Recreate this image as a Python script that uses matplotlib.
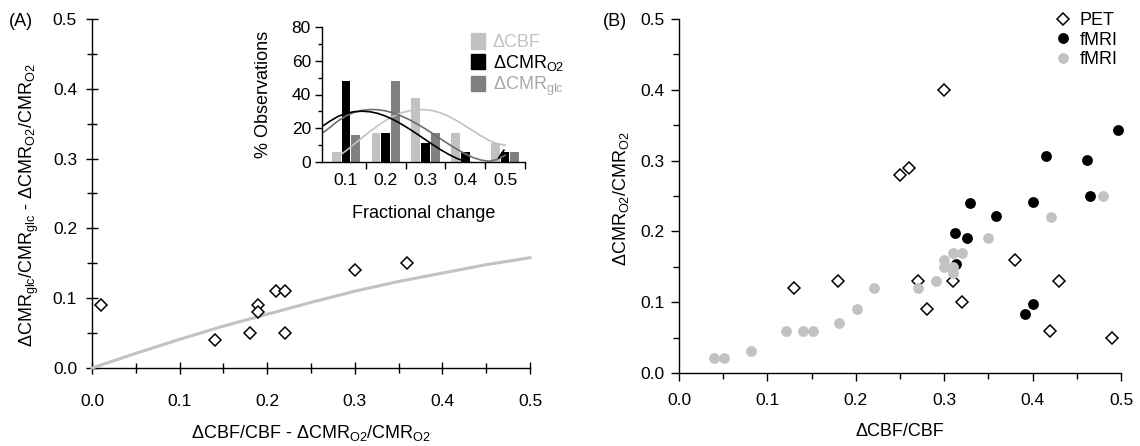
import numpy as np
import matplotlib
matplotlib.use("Agg")
import matplotlib.pyplot as plt
from matplotlib.patches import Patch
from matplotlib.lines import Line2D
from matplotlib.ticker import MultipleLocator, FixedLocator, FormatStrFormatter

plt.rcParams['font.family'] = ['Liberation Sans', 'DejaVu Sans']
plt.rcParams['mathtext.fontset'] = 'custom'
plt.rcParams['mathtext.rm'] = 'Liberation Sans'
plt.rcParams['mathtext.it'] = 'Liberation Sans'
plt.rcParams['axes.linewidth'] = 1.0

# ---- Panel A: glucose vs oxygen uncoupling ----
a_x = [0.01, 0.14, 0.18, 0.19, 0.19, 0.21, 0.22, 0.22, 0.30, 0.36]
a_y = [0.09, 0.04, 0.05, 0.09, 0.08, 0.11, 0.11, 0.05, 0.14, 0.15]
model_x = [0.0, 0.05, 0.10, 0.15, 0.20, 0.25, 0.30, 0.35, 0.40, 0.45, 0.50]
model_y = [0.0, 0.021, 0.041, 0.060, 0.077, 0.094, 0.110, 0.124, 0.136, 0.148, 0.158]

# ---- Inset: histogram of fractional changes (%) ----
bins = [0.1, 0.2, 0.3, 0.4, 0.5]
pct_cbf = [6, 17, 38, 17, 11]
pct_cmro2 = [48, 17, 11, 6, 6]
pct_cmrglc = [16, 48, 17, 0, 6]

fit_cbf_x = [0.085, 0.10, 0.12, 0.14, 0.16, 0.18, 0.20, 0.22, 0.24, 0.26, 0.28,
             0.30, 0.32, 0.34, 0.36, 0.38, 0.40, 0.42, 0.44, 0.46, 0.48, 0.50]
fit_cbf_y = [4.0, 6.6, 10.4, 14.3, 18.0, 21.5, 24.6, 27.2, 29.2, 30.4, 31.0,
             31.0, 30.3, 28.9, 26.9, 24.3, 21.4, 18.4, 15.4, 12.8, 10.9, 10.0]
fit_cmro2_x = [0.04, 0.06, 0.08, 0.10, 0.12, 0.14, 0.16, 0.18, 0.20, 0.22, 0.24,
               0.26, 0.28, 0.30, 0.32, 0.34, 0.36, 0.38, 0.40, 0.41, np.nan,
               0.484, 0.497]
fit_cmro2_y = [21.0, 24.2, 27.0, 28.8, 29.8, 30.1, 29.8, 28.8, 27.2, 25.0, 22.4,
               19.5, 16.4, 13.2, 10.0, 7.0, 4.3, 2.0, 0.4, 0.0, np.nan,
               2.5, 7.0]
fit_cmrglc_x = [0.04, 0.06, 0.08, 0.10, 0.12, 0.14, 0.16, 0.18, 0.20, 0.22, 0.24,
                0.26, 0.28, 0.30, 0.32, 0.34, 0.36, 0.38, 0.40, 0.42, 0.44, 0.46,
                0.48, 0.50]
fit_cmrglc_y = [17.0, 20.5, 24.3, 27.3, 29.4, 30.6, 31.1, 31.0, 30.3, 29.0, 27.2,
                25.0, 22.4, 19.6, 16.5, 13.4, 10.3, 7.4, 4.8, 2.6, 1.1, 0.5,
                1.5, 4.0]

# ---- Panel B: oxygen vs flow ----
pet_x = [0.13, 0.18, 0.25, 0.26, 0.27, 0.28, 0.30, 0.31, 0.32, 0.38, 0.42, 0.43, 0.49]
pet_y = [0.12, 0.13, 0.28, 0.29, 0.13, 0.09, 0.40, 0.13, 0.10, 0.16, 0.06, 0.13, 0.05]
fmri1_x = [0.312, 0.326, 0.329, 0.313, 0.359, 0.391, 0.401, 0.400, 0.415, 0.462, 0.465, 0.497]
fmri1_y = [0.198, 0.190, 0.240, 0.154, 0.222, 0.083, 0.097, 0.241, 0.306, 0.301, 0.250, 0.343]
fmri2_x = [0.040, 0.051, 0.081, 0.121, 0.140, 0.152, 0.181, 0.201, 0.221, 0.270,
           0.291, 0.300, 0.300, 0.310, 0.320, 0.310, 0.310, 0.350, 0.421, 0.480]
fmri2_y = [0.021, 0.021, 0.031, 0.060, 0.060, 0.060, 0.071, 0.090, 0.120, 0.120,
           0.130, 0.160, 0.150, 0.170, 0.170, 0.150, 0.141, 0.190, 0.220, 0.250]

LIGHT = '#c2c2c2'
DARK = '#808080'
TICK_FS = 12.5
LABEL_FS = 13
LEG_FS = 13

W, H = 1140, 446
fig = plt.figure(figsize=(W / 100, H / 100), dpi=100)


def frac(x0, y0, x1, y1):
    return [x0 / W, 1 - y1 / H, (x1 - x0) / W, (y1 - y0) / H]


def style_main(ax, direction, major_len, minor_len, xpad, ypad):
    for s in ('top', 'right'):
        ax.spines[s].set_visible(False)
    ax.set_xlim(0, 0.5)
    ax.set_ylim(0, 0.5)
    ax.xaxis.set_major_locator(MultipleLocator(0.1))
    ax.yaxis.set_major_locator(MultipleLocator(0.1))
    ax.xaxis.set_minor_locator(MultipleLocator(0.05))
    ax.yaxis.set_minor_locator(MultipleLocator(0.05))
    ax.xaxis.set_major_formatter(FormatStrFormatter('%.1f'))
    ax.yaxis.set_major_formatter(FormatStrFormatter('%.1f'))
    ax.tick_params(which='major', direction=direction, length=major_len, width=1.0,
                   labelsize=TICK_FS)
    ax.tick_params(which='minor', direction=direction, length=minor_len, width=1.0)
    ax.tick_params(axis='x', which='major', pad=xpad)
    ax.tick_params(axis='y', which='major', pad=ypad)
    for s in ('left', 'bottom'):
        ax.spines[s].set_zorder(0.5)


# Panel A
axA = fig.add_axes(frac(92, 19, 530, 368))
style_main(axA, 'inout', 9, 7, 14, 6.3)
axA.plot(model_x, model_y, color=LIGHT, lw=2.2, zorder=2, clip_on=False)
axA.plot(a_x, a_y, linestyle='none', marker='D', ms=5.8, mfc='white', mec='black',
         mew=1.1, zorder=3, clip_on=False)
axA.set_xlabel(r'ΔCBF/CBF - ΔCMR$_{\mathrm{O2}}$/CMR$_{\mathrm{O2}}$', fontsize=LABEL_FS)
axA.xaxis.set_label_coords(0.5, -0.185)
axA.xaxis.label.set_va('center')
axA.set_ylabel(r'ΔCMR$_{\mathrm{glc}}$/CMR$_{\mathrm{glc}}$ - ΔCMR$_{\mathrm{O2}}$/CMR$_{\mathrm{O2}}$',
               fontsize=LABEL_FS)
axA.yaxis.set_label_coords(-0.144, 0.465)
axA.yaxis.label.set_va('center')
fig.text(9 / W, 1 - 21 / H, '(A)', fontsize=LABEL_FS, va='center', ha='left')

# Inset histogram
axI = fig.add_axes(frac(322, 27, 525, 162))
for s in ('top', 'right'):
    axI.spines[s].set_visible(False)
bw = 0.022
off = 0.0245
bx = np.array(bins)
axI.bar(bx - off, pct_cbf, width=bw, color=LIGHT, zorder=1)
axI.bar(bx, pct_cmro2, width=bw, color='black', zorder=1)
axI.bar(bx + off, pct_cmrglc, width=bw, color=DARK, zorder=1)
axI.plot(fit_cbf_x, fit_cbf_y, color=LIGHT, lw=1.2, zorder=2)
axI.plot(fit_cmrglc_x, fit_cmrglc_y, color='#6e6e6e', lw=1.2, zorder=2)
axI.plot(fit_cmro2_x, fit_cmro2_y, color='black', lw=1.2, zorder=3)
axI.set_xlim(0.04, 0.55)
axI.set_ylim(0, 80)
axI.xaxis.set_major_locator(FixedLocator(bins))
axI.xaxis.set_minor_locator(FixedLocator([0.15, 0.25, 0.35, 0.45, 0.55]))
axI.xaxis.set_major_formatter(FormatStrFormatter('%.1f'))
axI.yaxis.set_major_locator(MultipleLocator(20))
axI.yaxis.set_minor_locator(MultipleLocator(10))
axI.tick_params(axis='x', which='major', length=0, pad=8, labelsize=TICK_FS)
axI.tick_params(axis='x', which='minor', direction='out', length=5, width=1.0)
axI.tick_params(axis='y', which='major', direction='out', length=5, width=1.0,
                pad=3, labelsize=TICK_FS)
axI.tick_params(axis='y', which='minor', direction='out', length=3, width=1.0)
axI.set_xlabel('Fractional change', fontsize=LABEL_FS)
axI.xaxis.set_label_coords(0.5, -0.38)
axI.xaxis.label.set_va('center')
axI.set_ylabel('% Observations', fontsize=LABEL_FS)
axI.yaxis.set_label_coords(-0.29, 0.5)
axI.yaxis.label.set_va('center')

inset_handles = [Patch(color=LIGHT), Patch(color='black'), Patch(color=DARK)]
inset_labels = ['ΔCBF', r'ΔCMR$_{\mathrm{O2}}$', r'ΔCMR$_{\mathrm{glc}}$']
legI = fig.legend(inset_handles, inset_labels, loc='upper left',
                  bbox_to_anchor=(471 / W, 1 - 33 / H), frameon=False,
                  fontsize=LEG_FS, handlelength=0.8, handleheight=0.95,
                  handletextpad=0.4, labelspacing=0.1, borderpad=0,
                  borderaxespad=0)
for txt, col in zip(legI.get_texts(), [LIGHT, 'black', '#a8a8a8']):
    txt.set_color(col)

# Panel B
axB = fig.add_axes(frac(679, 19, 1121, 373))
style_main(axB, 'out', 5.5, 4, 9, 5)
axB.plot(pet_x, pet_y, linestyle='none', marker='D', ms=5.8, mfc='white', mec='black',
         mew=1.1, zorder=3, clip_on=False)
axB.plot(fmri1_x, fmri1_y, linestyle='none', marker='o', ms=7.8, mfc='black',
         mec='black', mew=0, zorder=4, clip_on=False)
axB.plot(fmri2_x, fmri2_y, linestyle='none', marker='o', ms=7.8, mfc=LIGHT,
         mec=LIGHT, mew=0, zorder=5, clip_on=False)
axB.set_xlabel('ΔCBF/CBF', fontsize=LABEL_FS)
axB.xaxis.set_label_coords(0.5, -0.165)
axB.xaxis.label.set_va('center')
axB.set_ylabel(r'ΔCMR$_{\mathrm{O2}}$/CMR$_{\mathrm{O2}}$', fontsize=LABEL_FS)
axB.yaxis.set_label_coords(-0.131, 0.494)
axB.yaxis.label.set_va('center')
fig.text(603 / W, 1 - 21 / H, '(B)', fontsize=LABEL_FS, va='center', ha='left')

b_handles = [
    Line2D([], [], linestyle='none', marker='D', ms=5.8, mfc='white', mec='black', mew=1.1),
    Line2D([], [], linestyle='none', marker='o', ms=7.8, mfc='black', mec='black', mew=0),
    Line2D([], [], linestyle='none', marker='o', ms=7.8, mfc=LIGHT, mec=LIGHT, mew=0),
]
fig.legend(b_handles, ['PET', 'fMRI', 'fMRI'], loc='upper left',
           bbox_to_anchor=(1054 / W, 1 - 12 / H), frameon=False, fontsize=LEG_FS,
           handlelength=1.0, handletextpad=0.4, labelspacing=0.15, borderpad=0,
           borderaxespad=0)

fig.savefig('out.png', dpi=100)
